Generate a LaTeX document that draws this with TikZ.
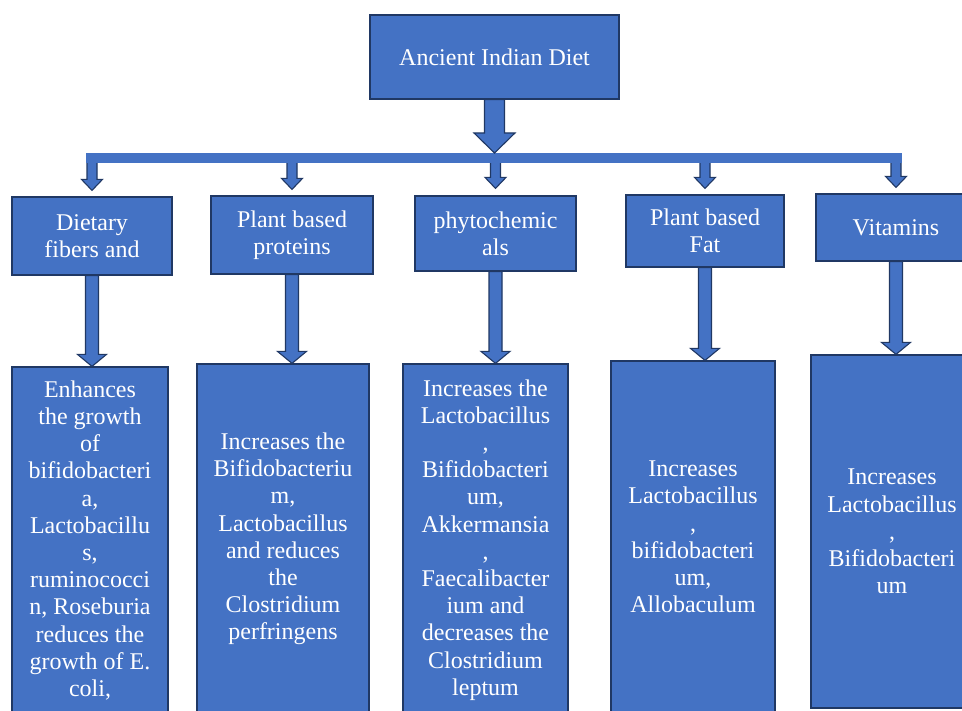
\documentclass[tikz,border=0pt]{standalone}
\usepackage{fontspec}
\setmainfont{Liberation Serif}
\usepackage{xcolor}
\usepackage{tikz}
\usetikzlibrary{calc}
\definecolor{dietblue}{HTML}{4472C4}
\definecolor{dietnavy}{HTML}{203864}
\newcommand{\dietfont}{\fontsize{24}{27.2}\selectfont}
% block arrow: start, tip, shaft half width, head half width, head length
\newcommand{\blkarrow}[5]{%
  \draw[blockarrow] let \p1=(#1), \p2=(#2) in
    (\x1-#3,\y1) -- (\x1-#3,\y2+#5) -- (\x1-#4,\y2+#5) -- (\x1,\y2)
    -- (\x1+#4,\y2+#5) -- (\x1+#3,\y2+#5) -- (\x1+#3,\y1) -- cycle;}

\begin{document}
\begin{tikzpicture}[x=1pt,y=-1pt,
  box/.style={draw=dietnavy,fill=dietblue,line width=1.2pt,text=white,
    align=center,font=\dietfont,inner sep=0pt},
  blockarrow/.style={draw=dietnavy,fill=dietblue,line width=1.1pt,line join=miter},
  bar/.style={draw=dietblue,line width=10pt}]
\useasboundingbox[fill=white] (0,0) rectangle (962,711);
\clip (0,0) rectangle (962,711);
%
\node[box,minimum width=249pt,minimum height=84pt] (diet) at (494.5,57) {Ancient Indian Diet};
%
\node[box,minimum width=160pt,minimum height=78pt] (fiber) at (92,236) {Dietary\\fibers and};
\node[box,minimum width=162pt,minimum height=78pt] (protein) at (292,235) {Plant based\\proteins};
\node[box,minimum width=161pt,minimum height=75pt] (phyto) at (495.5,233.5) {phytochemic\\als};
\node[box,minimum width=158pt,minimum height=72pt] (fat) at (705,231) {Plant based\\Fat};
\node[box,minimum width=160pt,minimum height=67pt] (vitamin) at (896,227.5) {Vitamins};
%
\node[box,minimum width=156pt,minimum height=347pt] (fiberfx) at (90,540.5)
  {Enhances\\the growth\\of\\bifidobacteri\\a,\\Lactobacillu\\s,\\ruminococci\\n, Roseburia\\reduces the\\growth of E.\\coli,};
\node[box,minimum width=172pt,minimum height=350pt] (proteinfx) at (283,539)
  {Increases the\\Bifidobacteriu\\m,\\Lactobacillus\\and reduces\\the\\Clostridium\\perfringens};
\node[box,minimum width=165pt,minimum height=352pt] (phytofx) at (485.5,540)
  {Increases the\\Lactobacillus\\,\\Bifidobacteri\\um,\\Akkermansia\\,\\Faecalibacter\\ium and\\decreases the\\Clostridium\\leptum};
\node[box,minimum width=164pt,minimum height=352pt] (fatfx) at (693,537)
  {Increases\\Lactobacillus\\,\\bifidobacteri\\um,\\Allobaculum};
\node[box,minimum width=162pt,minimum height=353pt] (vitaminfx) at (892,531.5)
  {Increases\\Lactobacillus\\,\\Bifidobacteri\\um};
%
\coordinate (bartop) at (494.5,153);
\coordinate (barmid) at (494.5,160);
\coordinate (barL) at (86,158);
\coordinate (barR) at (902,158);
%
\blkarrow{fiber.north |- barmid}{$(fiber.north)+(0,-6)$}{5pt}{10.5pt}{11pt}
\blkarrow{protein.north |- barmid}{$(protein.north)+(0,-6)$}{5pt}{10.5pt}{11pt}
\blkarrow{phyto.north |- barmid}{$(phyto.north)+(0,-7)$}{5pt}{10.5pt}{11pt}
\blkarrow{fat.north |- barmid}{$(fat.north)+(0,-6)$}{5pt}{10.5pt}{11pt}
\blkarrow{vitamin.north |- barmid}{$(vitamin.north)+(0,-6)$}{5pt}{10.5pt}{11pt}
\draw[bar] (barL) -- (barR);
\blkarrow{diet.south}{diet.south |- bartop}{10pt}{20.5pt}{20pt}
%
\blkarrow{fiber.south}{fiber.south |- fiberfx.north}{6.5pt}{14.5pt}{12pt}
\blkarrow{protein.south}{protein.south |- proteinfx.north}{6.5pt}{14.5pt}{12pt}
\blkarrow{phyto.south}{phyto.south |- phytofx.north}{6.5pt}{14.5pt}{12pt}
\blkarrow{fat.south}{fat.south |- fatfx.north}{6.5pt}{14.5pt}{12pt}
\blkarrow{vitamin.south}{vitamin.south |- vitaminfx.north}{6.5pt}{14.5pt}{12pt}
\end{tikzpicture}
\end{document}
